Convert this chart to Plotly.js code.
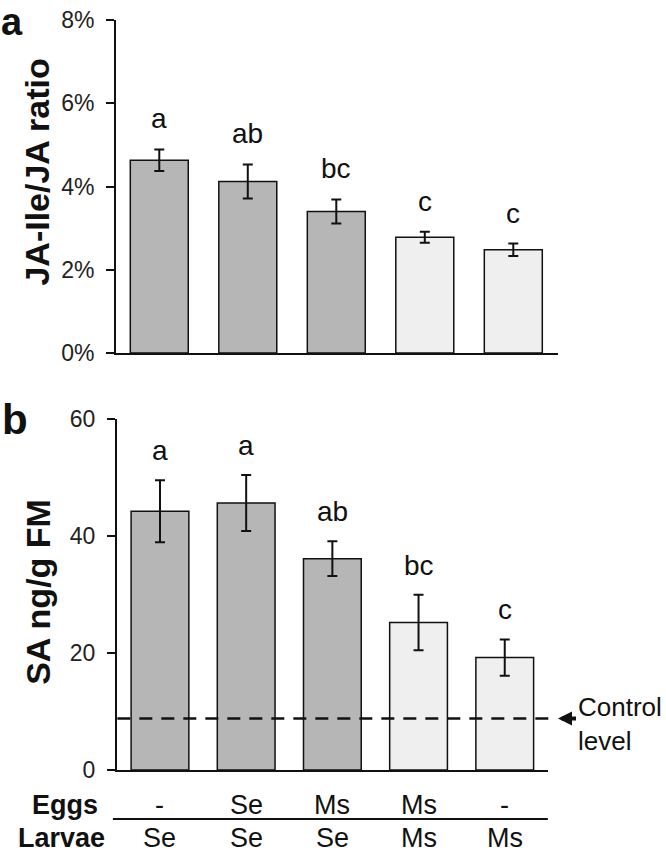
<!DOCTYPE html>
<html>
<head>
<meta charset="utf-8">
<script src="https://cdn.plot.ly/plotly-3.0.1.min.js"></script>
<style>
  html, body { margin: 0; padding: 0; background: #ffffff; }
  #chart { width: 666px; height: 852px; }
</style>
</head>
<body>
<div id="chart"></div>
<script>
// ---- Data ----
const eggs = ['-', 'Se', 'Ms', 'Ms', '-'];
const larvae = ['Se', 'Se', 'Se', 'Ms', 'Ms'];
const categories = ['-|Se', 'Se|Se', 'Ms|Se', 'Ms|Ms', '-|Ms'];

const jaRatio = [4.63, 4.12, 3.40, 2.78, 2.48];      // JA-Ile/JA ratio, %
const jaRatioErr = [0.26, 0.41, 0.29, 0.13, 0.15];
const jaLetters = ['a', 'ab', 'bc', 'c', 'c'];

const saLevel = [44.2, 45.6, 36.1, 25.2, 19.2];      // SA ng/g FM
const saErr = [5.3, 4.8, 2.95, 4.75, 3.1];
const saLetters = ['a', 'a', 'ab', 'bc', 'c'];

const controlLevel = 8.8;

const yTicksA = [0, 2, 4, 6, 8];
const yTicksB = [0, 20, 40, 60];

// ---- Styles ----
const FONT = 'Liberation Sans, Arial, Helvetica, sans-serif';
const DARK = '#b6b6b6';
const LIGHT = '#efefef';
const barColors = larvae.map(l => l === 'Se' ? DARK : LIGHT);

const traceA = {
  type: 'bar', x: categories, y: jaRatio, xaxis: 'x', yaxis: 'y',
  width: 0.655,
  marker: { color: barColors, line: { color: '#111', width: 1.5 } },
  error_y: { type: 'data', array: jaRatioErr, visible: true, color: '#111', thickness: 2, width: 5 },
  hoverinfo: 'skip'
};
const traceB = {
  type: 'bar', x: categories, y: saLevel, xaxis: 'x2', yaxis: 'y2',
  width: 0.67,
  marker: { color: barColors, line: { color: '#111', width: 1.5 } },
  error_y: { type: 'data', array: saErr, visible: true, color: '#111', thickness: 2, width: 5 },
  hoverinfo: 'skip'
};

const annotations = [];
// significance letters and treatment table
categories.forEach((c, i) => {
  annotations.push({
    xref: 'x', yref: 'y', x: c, y: jaRatio[i] + jaRatioErr[i],
    text: jaLetters[i], showarrow: false, yanchor: 'bottom', yshift: 13,
    font: { family: FONT, size: 28, color: '#111' }
  });
  annotations.push({
    xref: 'x2', yref: 'y2', x: c, y: saLevel[i] + saErr[i],
    text: saLetters[i], showarrow: false, yanchor: 'bottom', yshift: 12,
    font: { family: FONT, size: 28, color: '#111' }
  });
  annotations.push({
    xref: 'x2', yref: 'paper', x: c, y: 0, yshift: -35,
    text: eggs[i], showarrow: false, yanchor: 'middle',
    font: { family: FONT, size: 27, color: '#111' }
  });
  annotations.push({
    xref: 'x2', yref: 'paper', x: c, y: 0, yshift: -68,
    text: larvae[i], showarrow: false, yanchor: 'middle',
    font: { family: FONT, size: 27, color: '#111' }
  });
});

// row labels
annotations.push({
  xref: 'paper', yref: 'paper', x: -0.036, y: 0, yshift: -35, xanchor: 'right', yanchor: 'middle',
  text: '<b>Eggs</b>', showarrow: false, font: { family: FONT, size: 27, color: '#111' }
});
annotations.push({
  xref: 'paper', yref: 'paper', x: -0.020, y: 0, yshift: -68, xanchor: 'right', yanchor: 'middle',
  text: '<b>Larvae</b>', showarrow: false, font: { family: FONT, size: 27, color: '#111' }
});

// axis titles
annotations.push({
  xref: 'paper', yref: 'paper', x: -0.178, y: 0.797, textangle: -90,
  xanchor: 'center', yanchor: 'middle', showarrow: false,
  text: '<b>JA-Ile/JA ratio</b>', font: { family: FONT, size: 34, color: '#111' }
});
annotations.push({
  xref: 'paper', yref: 'paper', x: -0.178, y: 0.238, textangle: -90,
  xanchor: 'center', yanchor: 'middle', showarrow: false,
  text: '<b>SA ng/g FM</b>', font: { family: FONT, size: 34, color: '#111' }
});

// panel letters
annotations.push({
  xref: 'paper', yref: 'paper', x: -0.2624, y: 1.0265, xanchor: 'left', yanchor: 'top',
  borderpad: 0, text: '<b>a</b>', showarrow: false, font: { family: FONT, size: 38, color: '#111' }
});
annotations.push({
  xref: 'paper', yref: 'paper', x: -0.2624, y: 0.467, xanchor: 'left', yanchor: 'middle',
  text: '<b>b</b>', showarrow: false, font: { family: FONT, size: 42, color: '#111' }
});

// control level label and arrow
annotations.push({
  xref: 'paper', yref: 'paper', x: 1.04, y: 0.062, xanchor: 'left', yanchor: 'middle', align: 'left',
  text: 'Control<br>level', showarrow: false, font: { family: FONT, size: 26, color: '#111' }
});
annotations.push({
  xref: 'paper', yref: 'y2', x: 1.0, y: controlLevel, ax: 20, ay: 0,
  text: ' ', showarrow: true, arrowhead: 2, arrowsize: 0.7, arrowwidth: 4, arrowcolor: '#111',
  font: { size: 2 }
});

const shapes = [
  { type: 'line', xref: 'paper', yref: 'y2', x0: 0.003, x1: 0.992, y0: controlLevel, y1: controlLevel,
    line: { color: '#111', width: 2.5, dash: '13px,9px' } },
  { type: 'line', xref: 'paper', yref: 'paper', x0: -0.007, x1: 0.977, y0: -0.0653, y1: -0.0653,
    line: { color: '#111', width: 2 } }
];

const xBase = {
  type: 'category', showticklabels: false, ticks: '', showline: true, linewidth: 2, linecolor: '#111',
  showgrid: false, zeroline: false, fixedrange: true
};
const yBase = {
  showline: true, linewidth: 2, linecolor: '#111', ticks: 'outside', ticklen: 8, tickwidth: 2, tickcolor: '#111',
  showgrid: false, zeroline: false, fixedrange: true, ticklabelstandoff: 7,
  tickfont: { family: FONT, size: 23, color: '#222' }
};

const layout = {
  width: 666, height: 852,
  margin: { l: 116, r: 108, t: 20, b: 82 },
  paper_bgcolor: '#ffffff', plot_bgcolor: '#ffffff',
  showlegend: false,
  xaxis: Object.assign({}, xBase, { domain: [0, 1], range: [-0.489, 4.505], anchor: 'y', categoryarray: categories }),
  yaxis: Object.assign({}, yBase, { domain: [0.556, 1], range: [0, 8], tickvals: yTicksA, ticktext: yTicksA.map(v => v + '%'), anchor: 'x' }),
  xaxis2: Object.assign({}, xBase, { domain: [0.002, 0.977], range: [-0.5, 4.5], anchor: 'y2', categoryarray: categories }),
  yaxis2: Object.assign({}, yBase, { domain: [0, 0.4684], range: [0, 60], tickvals: yTicksB, anchor: 'x2' }),
  annotations: annotations,
  shapes: shapes
};

Plotly.newPlot('chart', [traceA, traceB], layout, { staticPlot: true, displayModeBar: false });
</script>
</body>
</html>
